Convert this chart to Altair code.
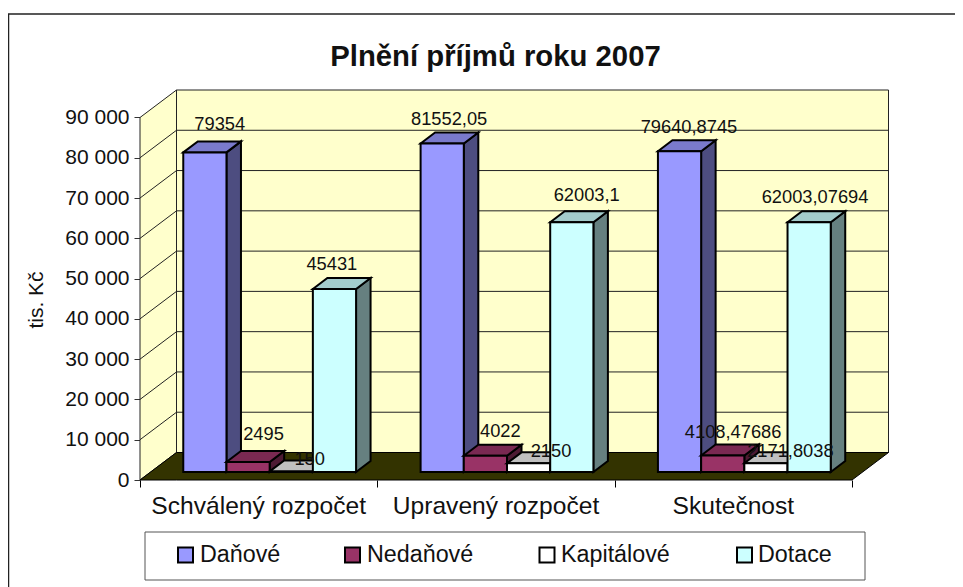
import altair as alt
import pandas as pd

FONT = "Liberation Sans"

# --- chart values
categories = ["Schválený rozpočet", "Upravený rozpočet", "Skutečnost"]
series_names = ["Daňové", "Nedaňové", "Kapitálové", "Dotace"]
danove = [79354, 81552.05, 79640.8745]
nedanove = [2495, 4022, 4108.47686]
kapitalove = [150, 2150, 2171.8038]
dotace = [45431, 62003.1, 62003.07694]
series_values = [danove, nedanove, kapitalove, dotace]
y_ticks = [0, 10000, 20000, 30000, 40000, 50000, 60000, 70000, 80000, 90000]

# --- styles
front_colors = ["#9999FF", "#993366", "#FFFFFF", "#CCFFFF"]
side_colors = ["#4D4D80", "#4D1A33", "#808080", "#668080"]
top_colors = ["#7A7ACC", "#7A2952", "#C0C0C0", "#A3CCCC"]

# --- layout (pixels of the picture)
X0, Y0 = 140.0, 480.0            # origin of the front plane
PX_90K = 117.5                   # picture row of 90 000
K = 90000 / (Y0 - PX_90K)        # value units per pixel
WALL_DX, WALL_DY = 36.5, 27.5    # depth of the floor
PLOT_W, PLOT_H = 749, 390
FLOOR_W = 712.0
CAT_W = FLOOR_W / 3
BAR_W = 43.2
BAR_DX, BAR_DY = 14.5, 11.0
BASE_DX, BASE_DY = 11.0, 8.0
GROUP_GAP = CAT_W - 4 * BAR_W
TOP = PLOT_H * K

def px(v):
    return v - X0

def py(v):
    return (Y0 - v) * K

def add_rows(rows, dest, pid, color):
    for x, y, y2 in rows:
        dest.append(dict(x=x, y=y, y2=y2, pid=pid, color=color))

def band(x0, lo0, hi0, x1, lo1, hi1, dest, pid, color):
    add_rows([(x0, hi0, lo0), (x1, hi1, lo1)], dest, pid, color)

def slab(x, w, d, y, h, dest, pid, color):
    add_rows([(x, y, y), (x + d, y + h, y), (x + w, y + h, y),
              (x + w + d, y + h, y + h)], dest, pid, color)

# --- walls and floor
walls = []
hb = WALL_DY * K
band(0, 0, 90000, WALL_DX, hb, 90000 + hb, walls, "left", "#FFFFCC")
band(WALL_DX, hb, 90000 + hb, FLOOR_W + WALL_DX, hb, 90000 + hb, walls, "back", "#FFFFCC")
floor = []
slab(0, FLOOR_W, WALL_DX, 0, hb, floor, "floor", "#333300")

# --- gridlines
grid = []
for t in y_ticks[1:-1]:
    grid += [dict(x=0, y=t, g=t, o=0), dict(x=WALL_DX, y=t + hb, g=t, o=1),
             dict(x=FLOOR_W + WALL_DX, y=t + hb, g=t, o=2)]

# --- bars
bars = []
base = BASE_DY * K
d_v = BAR_DY * K
bar_left = {}
for c in range(3):
    for s in range(4):
        v = series_values[s][c]
        x = c * CAT_W + GROUP_GAP / 2 + BASE_DX + s * BAR_W
        bar_left[(s, c)] = x
        t = v + base
        pid = f"{c}-{s}"
        band(x + BAR_W, base, t, x + BAR_W + BAR_DX, base + d_v, t + d_v,
             bars, pid + "side", side_colors[s])
        slab(x, BAR_W, BAR_DX, t, d_v, bars, pid + "top", top_colors[s])
        band(x, base, t, x + BAR_W, base, t, bars, pid + "front", front_colors[s])

# --- data labels: shift of each label from the front top-left corner of its bar
label_shift = {
    (0, 0): (36.5, -27), (0, 1): (28.5, -23.5), (0, 2): (31, -23),
    (1, 0): (37, -27), (1, 1): (36.5, -24), (1, 2): (32, -22),
    (2, 0): (40, -11), (2, 1): (44, -11), (2, 2): (46, -11.5),
    (3, 0): (19, -24), (3, 1): (36.5, -26), (3, 2): (27.5, -24),
}
labels = []
for s in range(4):
    for c in range(3):
        v = series_values[s][c]
        sx, sy = label_shift[(s, c)]
        labels.append(dict(x=bar_left[(s, c)] + sx, y=v + base - sy * K,
                           text=str(v).replace(".", ",")))

cat_text = [dict(x=CAT_W * (i + 0.5), y=py(507), text=t) for i, t in enumerate(categories)]
title_text = [dict(x=px(495.5), y=py(57), text="Plnění příjmů roku 2007")]

# --- legend
leg_sym_left = [178, 345, 539.5, 737]
leg_text_left = [200, 367, 561, 758]
leg_sym = []
leg_txt = []
for i, name in enumerate(series_names):
    leg_sym.append(dict(x=px(leg_sym_left[i]), x2=px(leg_sym_left[i] + 15),
                        y=py(547.5), y2=py(562.5), color=front_colors[i]))
    leg_txt.append(dict(x=px(leg_text_left[i]), y=py(555), text=name))
leg_box = [dict(x=px(145), x2=px(865), y=py(532), y2=py(580))]
frame = [dict(x=px(8.5), x2=px(990), y=py(14), y2=py(620))]

xs = alt.Scale(domain=[0, PLOT_W], nice=False, zero=False)
ys = alt.Scale(domain=[0, TOP], nice=False, zero=False)
x_axis = alt.Axis(values=[0, CAT_W, 2 * CAT_W, FLOOR_W], labels=False, domain=False,
                  grid=False, tickColor="black", tickSize=7, tickWidth=1)
y_axis = alt.Axis(values=y_ticks, domain=False, grid=False, tickColor="#333", tickSize=6,
                  tickWidth=1, labelFont=FONT, labelFontSize=21, labelColor="#111",
                  labelPadding=5, labelExpr="replace(format(datum.value, ','), ',', ' ')",
                  titleFont=FONT, titleFontSize=21, titleFontWeight="normal", titleColor="#111",
                  titleX=-104, titleY=209.5, titleAngle=270, titleAlign="center",
                  titleBaseline="middle")
X = alt.X("x:Q", scale=xs, axis=x_axis, title=None)
Y = alt.Y("y:Q", scale=ys, axis=y_axis, title="tis. Kč")

def areas(rows, stroke, width):
    return (
        alt.Chart(pd.DataFrame(rows))
        .mark_area(stroke=stroke, strokeWidth=width, strokeJoin="miter", opacity=1)
        .encode(x=X, y=Y, y2="y2:Q", detail="pid:N",
                fill=alt.Fill("color:N", scale=None))
    )

frame_layer = (
    alt.Chart(pd.DataFrame(frame))
    .mark_rect(fillOpacity=0, stroke="#222", strokeWidth=1.5)
    .encode(x=X, x2="x2:Q", y=Y, y2="y2:Q")
)
grid_layer = (
    alt.Chart(pd.DataFrame(grid))
    .mark_line(color="#222", strokeWidth=1)
    .encode(x=X, y=Y, detail="g:N", order="o:Q")
)

def texts(rows, size, align="center", weight="normal"):
    return (
        alt.Chart(pd.DataFrame(rows))
        .mark_text(font=FONT, fontSize=size, align=align, baseline="middle",
                   color="#111", fontWeight=weight)
        .encode(x=X, y=Y, text="text:N")
    )

legend_box = (
    alt.Chart(pd.DataFrame(leg_box))
    .mark_rect(fill="white", stroke="#555", strokeWidth=1)
    .encode(x=X, x2="x2:Q", y=Y, y2="y2:Q")
)
legend_sym = (
    alt.Chart(pd.DataFrame(leg_sym))
    .mark_rect(stroke="black", strokeWidth=2)
    .encode(x=X, x2="x2:Q", y=Y, y2="y2:Q", fill=alt.Fill("color:N", scale=None))
)

chart = alt.layer(
    frame_layer,
    areas(walls, "#222", 1),
    areas(floor, "black", 1),
    grid_layer,
    areas(bars, "black", 2),
    texts(labels, 18.3),
    texts(cat_text, 24.6),
    texts(title_text, 29.3, weight="bold"),
    legend_box,
    legend_sym,
    texts(leg_txt, 23.3, "left"),
).properties(
    width=PLOT_W,
    height=PLOT_H,
    padding={"left": 132, "top": 82, "right": 66, "bottom": 107},
    autosize=alt.AutoSizeParams(type="none"),
).configure_view(stroke=None)

chart.save("out.html", embed_options={"renderer": "svg", "actions": False})
